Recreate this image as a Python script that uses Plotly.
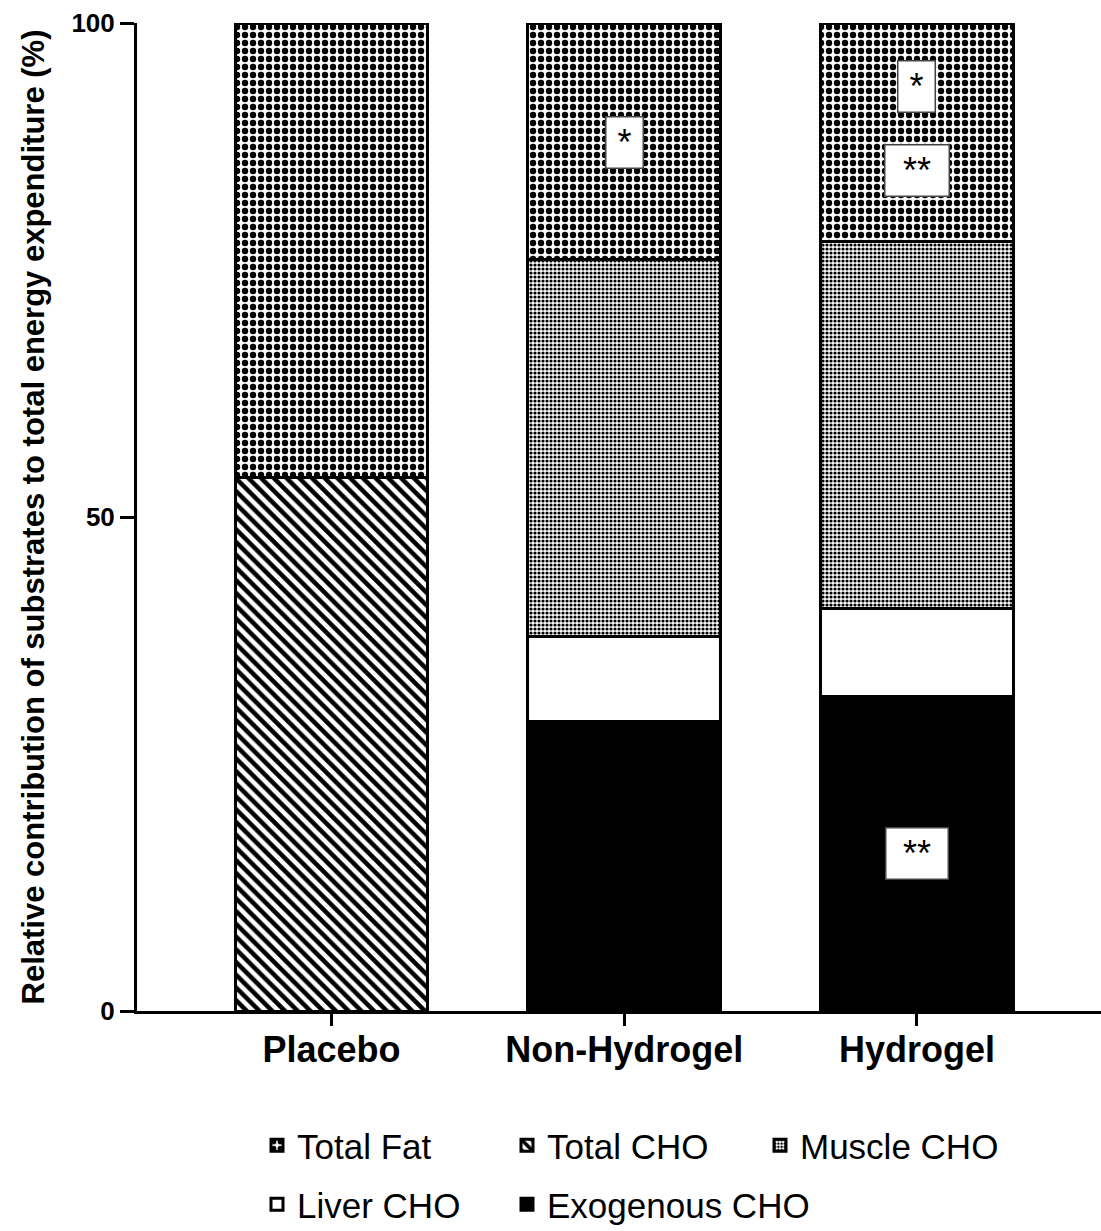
import plotly.graph_objects as go

categories = ["Placebo", "Non-Hydrogel", "Hydrogel"]

# stacked segment values (% of total energy expenditure), bottom to top
exogenous_cho = [None, 29.3, 31.8]
liver_cho = [None, 8.6, 8.9]
muscle_cho = [None, 38.2, 37.2]
total_cho = [54.0, None, None]
total_fat = [46.0, 23.9, 22.1]

# significance markers
sig_x = ["Non-Hydrogel", "Hydrogel", "Hydrogel", "Hydrogel"]
sig_y = [87.9, 93.6, 85.1, 15.9]
sig_text = ["*", "*", "**", "**"]
sig_w = [36, 36, 63, 61]

y_ticks = [0, 50, 100]

FONT = "Liberation Sans, Arial, Helvetica, sans-serif"
line = dict(color="black", width=3)

fig = go.Figure()
fig.add_trace(go.Bar(x=categories, y=exogenous_cho, name="Exogenous CHO", legend="legend5",
                     marker=dict(color="black", line=line)))
fig.add_trace(go.Bar(x=categories, y=liver_cho, name="Liver CHO", legend="legend4",
                     marker=dict(color="white", line=line)))
fig.add_trace(go.Bar(x=categories, y=muscle_cho, name="Muscle CHO", legend="legend3",
                     marker=dict(color="white", line=line,
                                 pattern=dict(shape=".", size=4, solidity=0.5,
                                              fgcolor="black", bgcolor="white",
                                              fillmode="replace"))))
fig.add_trace(go.Bar(x=categories, y=total_cho, name="Total CHO", legend="legend2",
                     marker=dict(color="white", line=line,
                                 pattern=dict(shape="\\", size=9, solidity=0.5,
                                              fgcolor="black", bgcolor="white",
                                              fillmode="replace"))))
fig.add_trace(go.Bar(x=categories, y=total_fat, name="Total Fat", legend="legend",
                     marker=dict(color="white", line=line,
                                 pattern=dict(shape=".", size=8, solidity=0.5,
                                              fgcolor="black", bgcolor="white",
                                              fillmode="replace"))))

for xx, yy, tt, ww in zip(sig_x, sig_y, sig_text, sig_w):
    fig.add_annotation(x=xx, y=yy, text=tt, showarrow=False, width=ww, height=50,
                       bgcolor="white", bordercolor="#444", borderwidth=1.5, borderpad=0,
                       valign="middle", font=dict(family=FONT, size=36, color="black"))

L, R, T, B = 137, 0, 23, 219.5
W, H = 1101, 1231
pw, ph = W - L - R, H - T - B


def leg(px, py):
    return dict(x=(px - L) / pw, y=(H - B - py) / ph, xanchor="left", yanchor="middle",
                orientation="h", bgcolor="rgba(0,0,0,0)",
                font=dict(family=FONT, size=35, color="black"))


fig.update_layout(
    width=W, height=H,
    barmode="stack", bargap=0.341,
    plot_bgcolor="white", paper_bgcolor="white",
    margin=dict(l=L, r=R, t=T, b=B, autoexpand=False),
    font=dict(family=FONT, color="black"),
    legend=leg(257, 1146),
    legend2=leg(507, 1146),
    legend3=leg(760, 1146),
    legend4=leg(257, 1205),
    legend5=leg(507, 1205),
    showlegend=True,
)
fig.update_yaxes(range=[0, 100], tickvals=y_ticks, showline=True, linecolor="black", linewidth=3,
                 ticks="outside", ticklen=14, tickwidth=3, tickcolor="black", showgrid=False,
                 zeroline=False, automargin=False,
                 tickfont=dict(family=FONT, size=26, weight="bold"),
                 title=dict(text="Relative contribution of substrates to total energy expenditure (%)",
                            font=dict(family=FONT, size=31, weight="bold"), standoff=18))
fig.update_xaxes(range=[-0.6645, 2.6286], showline=True, linecolor="black", linewidth=3,
                 ticks="outside", ticklen=12, tickwidth=3, tickcolor="black", showgrid=False,
                 automargin=False, ticklabelstandoff=-7,
                 tickfont=dict(family=FONT, size=36, weight="bold"))

fig.write_html("out.html", config={"displayModeBar": False},
               post_script="document.body.style.margin='0';document.body.style.padding='0';")
